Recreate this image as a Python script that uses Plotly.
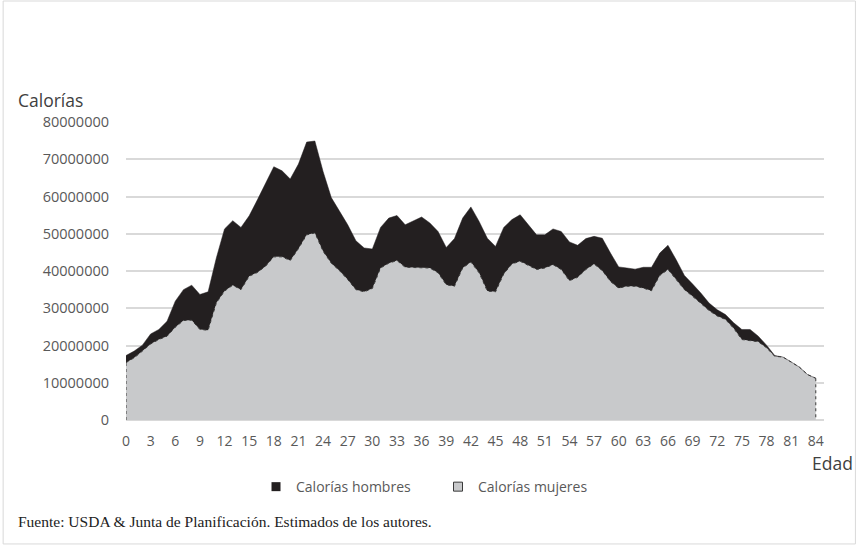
import plotly.graph_objects as go

# edad 0..84
ages = list(range(0, 85))

# total (hombres + mujeres), en millones
total_m = [
    17.3, 18.5, 20.1, 23.1, 24.3, 26.5, 31.9, 35.0, 36.2, 33.7,
    34.4, 43.5, 51.3, 53.5, 51.7, 54.8, 59.1, 63.6, 68.0, 66.9,
    64.7, 68.7, 74.6, 74.9, 66.7, 59.7, 56.2, 52.4, 48.1, 46.2,
    45.9, 51.7, 54.2, 54.9, 52.4, 53.5, 54.5, 52.9, 50.6, 46.3,
    48.7, 54.2, 57.2, 53.3, 48.8, 46.6, 51.7, 53.8, 55.1, 52.4,
    49.7, 49.7, 51.3, 50.6, 47.8, 46.9, 48.7, 49.3, 48.8, 44.8,
    41.1, 40.8, 40.5, 41.0, 41.0, 44.8, 46.9, 43.0, 38.8, 36.5,
    34.1, 31.4, 29.6, 28.3, 26.1, 24.3, 24.3, 22.5, 20.1, 17.3,
    16.9, 15.6, 14.2, 12.2, 11.2,
]

women_m = [
    15.4, 16.7, 18.5, 20.4, 21.6, 22.5, 24.9, 26.7, 26.8, 24.3,
    24.1, 31.4, 34.6, 36.2, 35.0, 38.6, 39.6, 41.3, 43.8, 43.8,
    42.8, 46.0, 49.7, 50.2, 45.3, 42.1, 40.1, 37.7, 35.0, 34.4,
    35.3, 40.8, 42.1, 42.8, 41.0, 41.0, 40.8, 40.8, 39.5, 36.3,
    35.9, 40.8, 42.4, 39.5, 34.6, 34.4, 39.2, 41.9, 42.6, 41.5,
    40.4, 40.8, 41.7, 40.4, 37.4, 38.3, 40.4, 41.9, 40.1, 37.2,
    35.4, 35.9, 35.9, 35.4, 34.7, 38.8, 40.4, 37.7, 35.0, 33.2,
    31.4, 29.4, 27.9, 27.0, 24.6, 21.6, 21.3, 21.0, 19.4, 17.1,
    16.9, 15.6, 14.2, 12.2, 11.2,
]

mujeres = [v * 1e6 for v in women_m]
hombres = [max(t - w, 0) * 1e6 for t, w in zip(total_m, women_m)]
y_ticks = [0, 10000000, 20000000, 30000000, 40000000, 50000000, 60000000, 70000000, 80000000]
x_ticks = list(range(0, 85, 3))

GRIS = "#C8C9CB"
NEGRO = "#231F20"
TEXTO = "#595959"

fig = go.Figure()

fig.add_trace(go.Scatter(
    x=ages, y=mujeres, mode="lines", stackgroup="one",
    fillcolor=GRIS, line=dict(color="#3a3a3a", width=1, dash="dot"),
    name="Calorías mujeres", showlegend=False, hoverinfo="x+y",
))
fig.add_trace(go.Scatter(
    x=ages, y=hombres, mode="lines", stackgroup="one",
    fillcolor=NEGRO, line=dict(color=NEGRO, width=0.5),
    name="Calorías hombres", showlegend=False, hoverinfo="x+y",
))
# bordes verticales punteados del area de mujeres
fig.add_trace(go.Scatter(
    x=[ages[0], ages[0], None, ages[-1], ages[-1]],
    y=[0, mujeres[0], None, mujeres[-1], 0],
    mode="lines", line=dict(color="#3a3a3a", width=1, dash="dot"),
    showlegend=False, hoverinfo="skip",
))

# entradas de leyenda
fig.add_trace(go.Scatter(
    x=[None], y=[None], mode="markers", name="Calorías hombres",
    marker=dict(symbol="square", size=9, color=NEGRO),
))
fig.add_trace(go.Scatter(
    x=[None], y=[None], mode="markers", name="Calorías mujeres",
    marker=dict(symbol="square", size=9, color=GRIS, line=dict(color="#3a3a3a", width=1)),
))

fig.update_layout(
    width=857, height=546,
    margin=dict(l=126, r=33, t=122, b=126),
    plot_bgcolor="white", paper_bgcolor="white",
    font=dict(family="Open Sans", color=TEXTO, size=14),
    showlegend=True,
    legend=dict(
        orientation="h", x=0.447, xanchor="center", y=-0.225, yanchor="middle",
        font=dict(size=14, color=TEXTO), itemwidth=30, traceorder="normal",
        entrywidth=137, entrywidthmode="pixels",
    ),
    annotations=[
        dict(text="Calorías", x=-0.157, xref="paper", y=1.075, yref="paper",
             xanchor="left", yanchor="middle", showarrow=False,
             font=dict(size=17.5, color="#404040")),
        dict(text="Edad", x=1.045, xref="paper", y=-0.145, yref="paper",
             xanchor="right", yanchor="middle", showarrow=False,
             font=dict(size=17.5, color="#404040")),
        dict(text="Fuente: USDA & Junta de Planificación. Estimados de los autores.",
             x=-0.157, xref="paper", y=-0.34, yref="paper",
             xanchor="left", yanchor="middle", showarrow=False,
             font=dict(family="Liberation Serif", size=15.5, color="#222222")),
    ],
    shapes=[
        dict(type="rect", xref="paper", yref="paper",
             x0=-0.176, x1=1.045, y0=-0.416, y1=1.406,
             line=dict(color="#D9D9D9", width=1), fillcolor="rgba(0,0,0,0)", layer="below"),
    ],
)

fig.update_xaxes(
    range=[0, 85], tickvals=x_ticks, ticktext=[str(t) for t in x_ticks],
    showgrid=False, zeroline=False, showline=False,
    tickfont=dict(size=14, color=TEXTO), ticks="", ticklabelstandoff=11,
)
fig.update_yaxes(
    range=[0, 80000000], tickvals=y_ticks, ticktext=[str(t) for t in y_ticks],
    showgrid=True, gridcolor="#D9D9D9", gridwidth=1.5,
    zeroline=True, zerolinecolor="#D9D9D9", zerolinewidth=1.5,
    tickfont=dict(size=14.5, color=TEXTO), ticks="", ticklabelstandoff=16,
)

fig.write_html(
    "out.html",
    config={"displayModeBar": False},
    post_script="document.body.style.margin='0';",
)
